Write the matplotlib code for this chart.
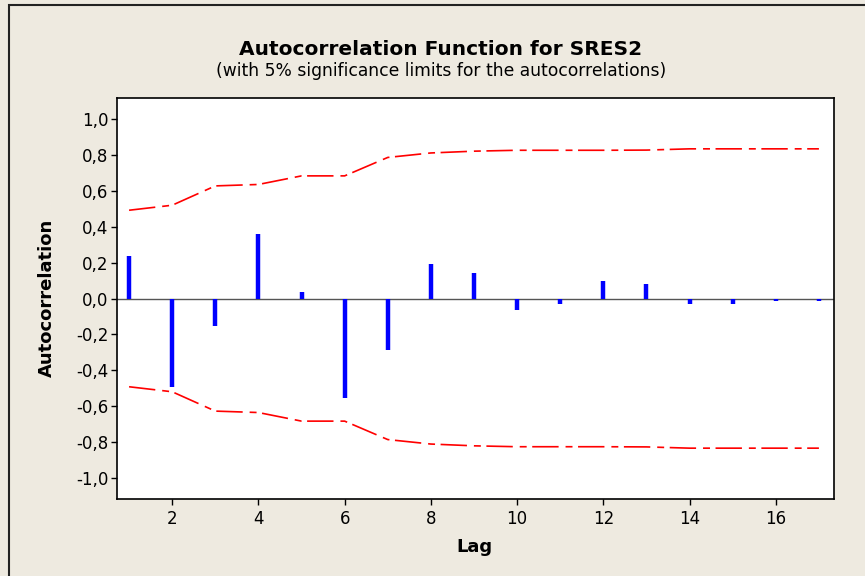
import matplotlib
matplotlib.use("Agg")
import matplotlib.pyplot as plt
from matplotlib.ticker import FuncFormatter
from matplotlib.patches import Rectangle

# ACF values
lags = list(range(1, 18))
acf = [0.238, -0.497, -0.155, 0.363, 0.037, -0.555, -0.289, 0.19, 0.14,
       -0.062, -0.028, 0.095, 0.08, -0.028, -0.028, -0.015, -0.015]
# upper 5% significance limit (lower one is the mirror)
limit = [0.493, 0.521, 0.629, 0.637, 0.685, 0.685, 0.788, 0.813, 0.823,
         0.828, 0.828, 0.828, 0.829, 0.836, 0.836, 0.836, 0.836]
lower = [-v for v in limit]

bg = '#EEEAE0'
plt.rcParams['lines.scale_dashes'] = False

fig = plt.figure(figsize=(8.65, 5.76), dpi=100, facecolor=bg)
ax = fig.add_axes([117/865, 1 - 499/576, (834 - 117)/865, (499 - 98)/576])
ax.set_facecolor('white')

# frame around the graph window
fig.patches.append(Rectangle((9/865, -0.05), 1.0, 1 - 5/576 + 0.05,
                             transform=fig.transFigure, fill=False,
                             edgecolor='#222222', linewidth=1.5))

ax.axhline(0, color='#555555', linewidth=1.0, zorder=1)
ax.vlines(lags, 0, acf, colors='#0000FF', linewidth=3.2, zorder=3)
dd = (19, 5, 5, 4)
ax.plot(lags, limit, color='#FF0000', linewidth=1.2, dashes=dd, zorder=2)
ax.plot(lags, lower, color='#FF0000', linewidth=1.2, dashes=dd, zorder=2)

ax.set_xlim(0.72, 17.35)
ax.set_ylim(-1.12, 1.12)
ax.set_xticks(range(2, 17, 2))
ax.set_yticks([i / 10 for i in range(-10, 11, 2)])
ax.yaxis.set_major_formatter(FuncFormatter(lambda v, p: ('%.1f' % v).replace('.', ',').replace('-0,0', '0,0')))
ax.tick_params(direction='out', length=4.5, width=1, labelsize=12, colors='black')
ax.tick_params(axis='x', pad=3.5)
ax.tick_params(axis='y', pad=1.5)
for s in ax.spines.values():
    s.set_linewidth(1.2)

ax.set_xlabel('Lag', fontsize=13, fontweight='bold', va='center')
ax.set_ylabel('Autocorrelation', fontsize=13, fontweight='bold', va='center')
ax.xaxis.set_label_coords((474 - 117)/717, (499 - 547)/401)
ax.yaxis.set_label_coords((47 - 117)/717, (499 - 298)/401)

fig.text(441/865, 1 - 55/576, 'Autocorrelation Function for SRES2', ha='center', va='baseline',
         fontsize=14.5, fontweight='bold')
fig.text(441/865, 1 - 76/576, '(with 5% significance limits for the autocorrelations)',
         ha='center', va='baseline', fontsize=12.3)

fig.savefig('out.png', dpi=100, facecolor=bg)
